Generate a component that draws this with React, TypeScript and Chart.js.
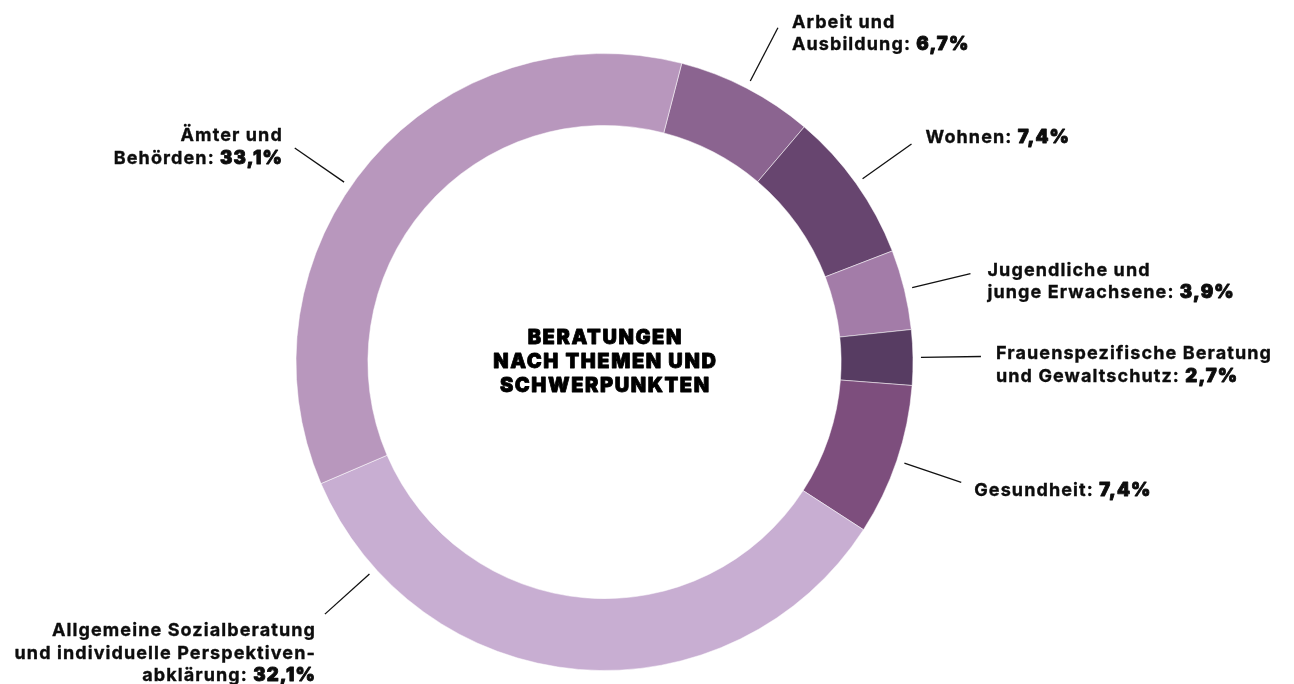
import React, { useEffect, useRef } from "react";
import { Chart, registerables } from "chart.js";

Chart.register(...registerables);

const categories = [
  "Arbeit und Ausbildung",
  "Wohnen",
  "Jugendliche und junge Erwachsene",
  "Frauenspezifische Beratung und Gewaltschutz",
  "Gesundheit",
  "Allgemeine Sozialberatung und individuelle Perspektivenabklärung",
  "Ämter und Behörden",
];
const values = [6.7, 7.4, 3.9, 2.7, 7.4, 32.1, 33.1];
const colors = ["#8b6490", "#67456f", "#a37ca8", "#573c62", "#7d4e7d", "#c8aed2", "#b897bd"];
const labelLines = [
  ["Arbeit und", "Ausbildung: "],
  ["Wohnen: "],
  ["Jugendliche und", "junge Erwachsene: "],
  ["Frauenspezifische Beratung", "und Gewaltschutz: "],
  ["Gesundheit: "],
  ["Allgemeine Sozialberatung", "und individuelle Perspektiven-", "abklärung: "],
  ["Ämter und", "Behörden: "],
];
const centerTitle = ["BERATUNGEN", "NACH THEMEN UND", "SCHWERPUNKTEN"];

// label layout: leader position along arc (fraction), first-baseline offset from leader end, alignment
const labelLayout = [
  { frac: 0.5, dx: 14, dy: 0, align: "left" },
  { frac: 0.5, dx: 14, dy: -1, align: "left" },
  { frac: 0.5, dx: 17, dy: 2, align: "left" },
  { frac: 0.5, dx: 15, dy: 3, align: "left" },
  { frac: 0.5, dx: 13, dy: 14, align: "left" },
  { frac: 0.848, dx: -10, dy: 22, align: "right" },
  { frac: 0.453, dx: -13, dy: -7, align: "right" },
];

const fmt = (v: number) => v.toFixed(1).replace(".", ",") + "%";

const FONT_FAMILY = "Inter, 'Noto Sans', sans-serif";
const LABEL_FONT = `700 18px ${FONT_FAMILY}`;
const VALUE_FONT = `900 18.5px ${FONT_FAMILY}`;
const LABEL_SPACING = 1.1;
const LABEL_STROKE = 0.35;
const VALUE_STROKE = 0.85;
const CENTER_FONT = `900 20px ${FONT_FAMILY}`;
const CENTER_SPACING = 1.6;
const CENTER_STROKE = 0.8;
const LINE_H = 22.6;
const CENTER_LINE_H = 23.8;

const labelPlugin = {
  id: "outerLabels",
  afterDraw(chart: any) {
    const ctx = chart.ctx;
    const meta = chart.getDatasetMeta(0);
    ctx.save();
    ctx.lineJoin = "round";
    const drawText = (t: string, x: number, y: number, stroke: number) => {
      ctx.fillText(t, x, y);
      if (stroke > 0) {
        ctx.lineWidth = stroke;
        ctx.strokeText(t, x, y);
      }
    };
    meta.data.forEach((arc: any, i: number) => {
      const lay = labelLayout[i];
      const a = arc.startAngle + (arc.endAngle - arc.startAngle) * lay.frac;
      const r1 = arc.outerRadius + 8;
      const r2 = arc.outerRadius + 68;
      const x1 = arc.x + Math.cos(a) * r1;
      const y1 = arc.y + Math.sin(a) * r1;
      const x2 = arc.x + Math.cos(a) * r2;
      const y2 = arc.y + Math.sin(a) * r2;
      ctx.strokeStyle = "#111";
      ctx.lineWidth = 1.3;
      ctx.beginPath();
      ctx.moveTo(x1, y1);
      ctx.lineTo(x2, y2);
      ctx.stroke();

      const tx = x2 + lay.dx;
      let ty = y2 + lay.dy;
      const lines = labelLines[i];
      ctx.fillStyle = "#0d0d0d";
      ctx.strokeStyle = "#0d0d0d";
      ctx.textBaseline = "alphabetic";
      ctx.textAlign = "left";
      (ctx as any).letterSpacing = LABEL_SPACING + "px";
      lines.forEach((ln, j) => {
        const isLast = j === lines.length - 1;
        ctx.font = LABEL_FONT;
        const w1 = ctx.measureText(ln).width;
        let w2 = 0;
        const val = isLast ? fmt(values[i]) : "";
        if (isLast) {
          ctx.font = VALUE_FONT;
          w2 = ctx.measureText(val).width;
        }
        const startX = lay.align === "right" ? tx - w1 - w2 + LABEL_SPACING : tx;
        ctx.font = LABEL_FONT;
        drawText(ln, startX, ty, LABEL_STROKE);
        if (isLast) {
          ctx.font = VALUE_FONT;
          drawText(val, startX + w1, ty, VALUE_STROKE);
        }
        ty += LINE_H;
      });
    });

    const arc0 = meta.data[0];
    ctx.font = CENTER_FONT;
    (ctx as any).letterSpacing = CENTER_SPACING + "px";
    ctx.textAlign = "left";
    ctx.textBaseline = "alphabetic";
    ctx.fillStyle = "#000";
    ctx.strokeStyle = "#000";
    centerTitle.forEach((t, j) => {
      const w = ctx.measureText(t).width - CENTER_SPACING;
      drawText(t, arc0.x - w / 2, arc0.y - 17.7 + j * CENTER_LINE_H, CENTER_STROKE);
    });
    ctx.restore();
  },
};

export default function App() {
  const ref = useRef<HTMLCanvasElement | null>(null);
  useEffect(() => {
    if (!ref.current) return;
    const chart = new Chart(ref.current, {
      type: "doughnut",
      data: {
        labels: categories,
        datasets: [
          {
            data: values,
            backgroundColor: colors,
            borderColor: "rgba(255,255,255,0.5)",
            borderWidth: 1,
          },
        ],
      },
      options: {
        animation: false,
        responsive: false,
        maintainAspectRatio: false,
        rotation: 14.5,
        cutout: "76.7%",
        layout: { padding: { top: 53, bottom: 13, left: 0, right: 85 } },
        plugins: {
          legend: { display: false },
          tooltip: { enabled: false },
        },
      },
      plugins: [labelPlugin],
    });
    return () => chart.destroy();
  }, []);
  return (
    <div style={{ position: "fixed", left: 0, top: 0, width: 1294, height: 684, background: "#fff" }}>
      <canvas ref={ref} width={1294} height={684} style={{ width: 1294, height: 684 }} />
    </div>
  );
}
